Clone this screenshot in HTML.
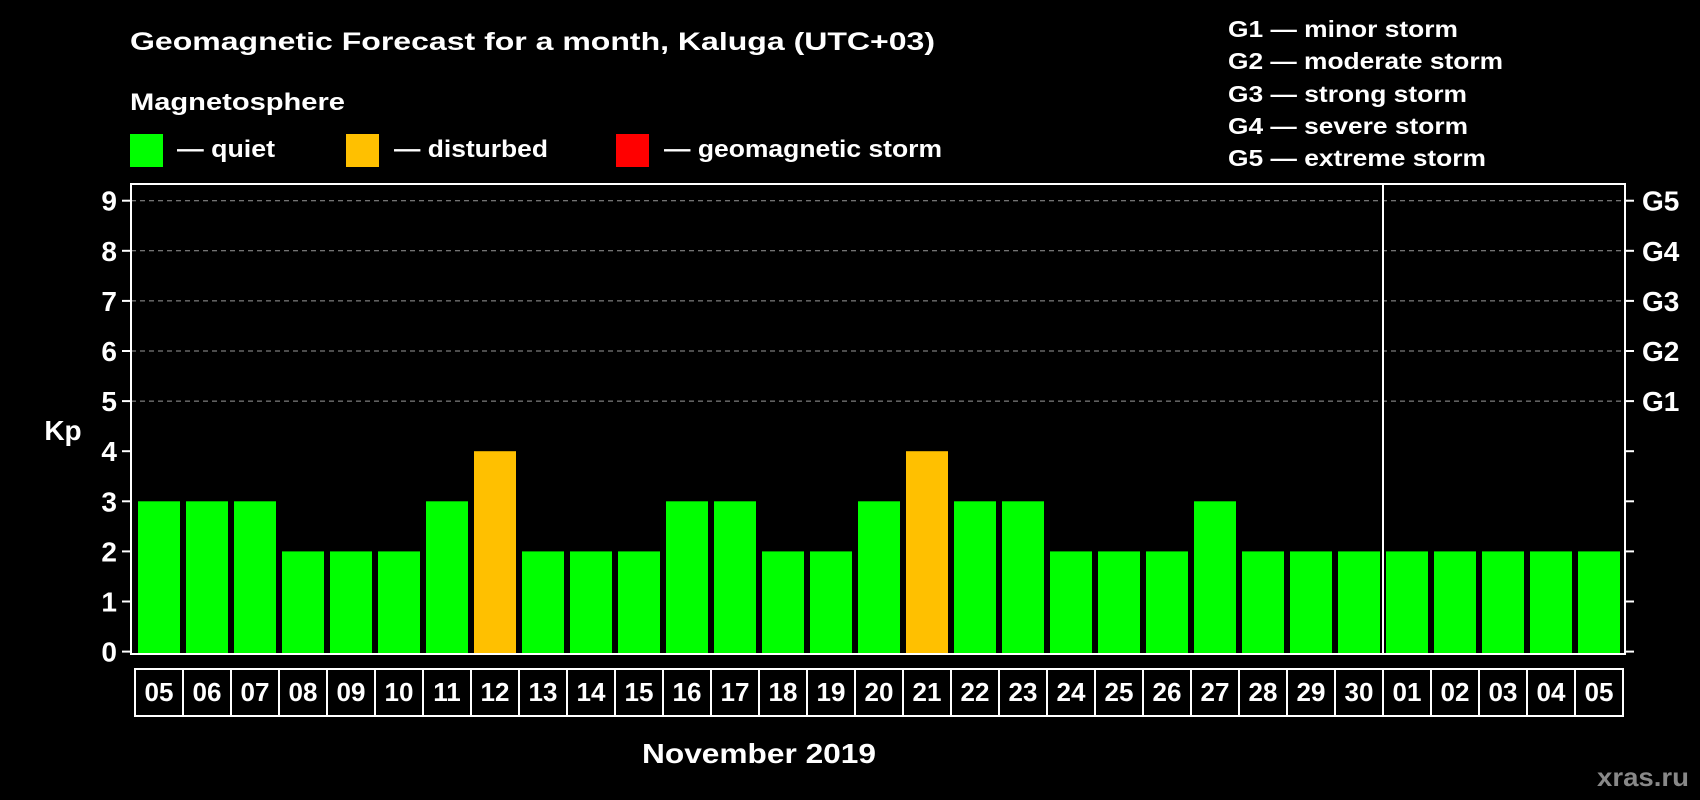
<!DOCTYPE html>
<html><head><meta charset="utf-8"><style>
html,body{margin:0;padding:0;background:#000;}
svg{display:block;font-family:"Liberation Sans",sans-serif;font-weight:bold;}
</style></head><body>
<svg id="chart" width="1700" height="800" viewBox="0 0 1700 800">
<rect x="0" y="0" width="1700" height="800" fill="#000"/>
<text x="130" y="50" font-size="25" fill="#fff" textLength="805" lengthAdjust="spacingAndGlyphs">Geomagnetic Forecast for a month, Kaluga (UTC+03)</text>
<text x="130" y="110" font-size="24" fill="#fff" textLength="215" lengthAdjust="spacingAndGlyphs">Magnetosphere</text>
<g><rect x="130" y="134" width="33" height="33" fill="#00ff00"/><text x="177" y="157" font-size="24" fill="#fff" textLength="98" lengthAdjust="spacingAndGlyphs">— quiet</text></g>
<g><rect x="346" y="134" width="33" height="33" fill="#ffc000"/><text x="394" y="157" font-size="24" fill="#fff" textLength="154" lengthAdjust="spacingAndGlyphs">— disturbed</text></g>
<g><rect x="616" y="134" width="33" height="33" fill="#ff0000"/><text x="664" y="157" font-size="24" fill="#fff" textLength="278" lengthAdjust="spacingAndGlyphs">— geomagnetic storm</text></g>
<g font-size="23" fill="#fff">
<text x="1228" y="37" textLength="230" lengthAdjust="spacingAndGlyphs">G1 — minor storm</text>
<text x="1228" y="69" textLength="275" lengthAdjust="spacingAndGlyphs">G2 — moderate storm</text>
<text x="1228" y="102" textLength="239" lengthAdjust="spacingAndGlyphs">G3 — strong storm</text>
<text x="1228" y="134" textLength="240" lengthAdjust="spacingAndGlyphs">G4 — severe storm</text>
<text x="1228" y="166" textLength="258" lengthAdjust="spacingAndGlyphs">G5 — extreme storm</text>
</g>
<g id="grid"></g>
<g id="bars"></g>
<g id="axes"></g>
<rect x="131" y="184" width="1494" height="470" fill="none" stroke="#fff" stroke-width="2"/>
<line x1="1383" y1="184" x2="1383" y2="654" stroke="#fff" stroke-width="2"/>
<text x="63" y="440" font-size="28" fill="#fff" text-anchor="middle">Kp</text>
<text x="759" y="763" font-size="28" fill="#fff" text-anchor="middle" textLength="234" lengthAdjust="spacingAndGlyphs">November 2019</text>
<text x="1689" y="786" font-size="26" fill="#888" text-anchor="end" textLength="92" lengthAdjust="spacingAndGlyphs">xras.ru</text>
</svg>
<script>
const days = ["05","06","07","08","09","10","11","12","13","14","15","16","17","18","19","20","21","22","23","24","25","26","27","28","29","30","01","02","03","04","05"];
const kpValues = [3,3,3,2,2,2,3,4,2,2,2,3,3,2,2,3,4,3,3,2,2,2,3,2,2,2,2,2,2,2,2];
const yTicks = [0,1,2,3,4,5,6,7,8,9];
const gLabels = ["G1","G2","G3","G4","G5"];
const gLevels = [5,6,7,8,9];

const NS = "http://www.w3.org/2000/svg";
const y = v => 651.6 - v * 50.1;
const x = i => 138 + i * 48;
const BW = 42;
function mk(tag, attrs, parent){const e=document.createElementNS(NS,tag);for(const k in attrs)e.setAttribute(k,attrs[k]);parent.appendChild(e);return e;}
const grid=document.getElementById("grid"), bars=document.getElementById("bars"), axes=document.getElementById("axes");
gLevels.forEach((lv,i)=>{
  const l=mk("line",{x1:131,x2:1625,y1:y(lv),y2:y(lv),stroke:"#999","stroke-dasharray":"5,4","stroke-width":1},grid);
  
  
  const t=mk("text",{x:1642,y:y(lv)+10,"font-size":28,fill:"#fff"},axes);
  t.textContent=gLabels[i];
  
  
});
yTicks.forEach(v=>{
  const t1=mk("line",{x1:122,x2:131,y1:y(v),y2:y(v),stroke:"#fff","stroke-width":2},axes);
  
  
  const t2=mk("line",{x1:1625,x2:1634,y1:y(v),y2:y(v),stroke:"#fff","stroke-width":2},axes);
  
  
  const t=mk("text",{x:117,y:y(v)+10,"font-size":28,fill:"#fff","text-anchor":"end"},axes);
  t.textContent=v;
  
  
});
kpValues.forEach((v,i)=>{
  const c = v>=5 ? "#ff0000" : (v>=4 ? "#ffc000" : "#00ff00");
  const b=mk("rect",{x:x(i),y:y(v),width:BW,height:653-y(v),fill:c},bars);
  
  
  const bx=mk("rect",{x:x(i)-3,y:669,width:48,height:47,fill:"none",stroke:"#fff","stroke-width":2},axes);
  
  
  const t=mk("text",{x:x(i)+BW/2,y:701,"font-size":26,fill:"#fff","text-anchor":"middle"},axes);
  t.textContent=days[i];
  
  
});
</script>
</body></html>
